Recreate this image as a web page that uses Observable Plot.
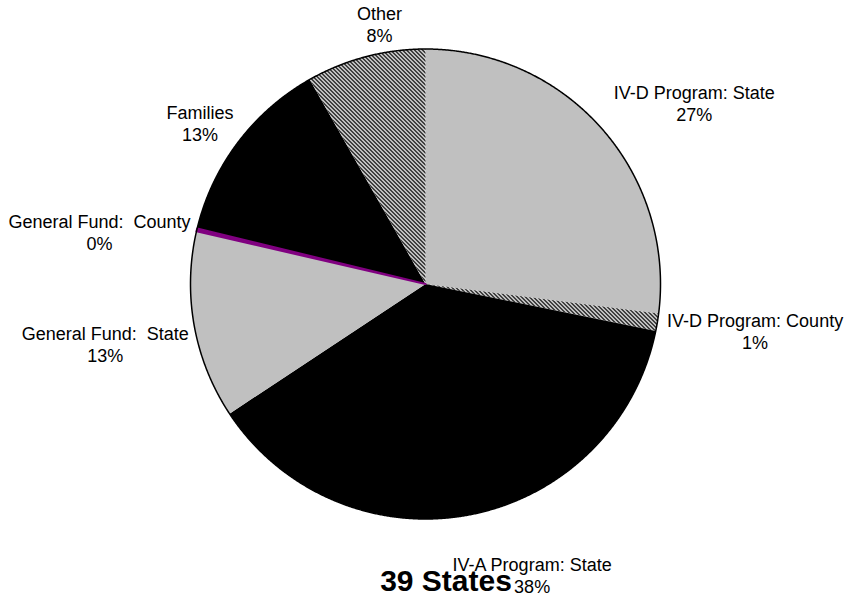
<!DOCTYPE html>
<html>
<head>
<meta charset="utf-8">
<script src="https://cdn.jsdelivr.net/npm/d3@7"></script>
<script src="https://cdn.jsdelivr.net/npm/@observablehq/plot@0.6"></script>
<style>
  html, body { margin: 0; padding: 0; background: #fff; }
  body { font-family: "Liberation Sans", Arial, sans-serif; }
  #wrap { position: relative; width: 856px; height: 598px; overflow: hidden; }
  #title { position: absolute; left: 346px; width: 200px; top: 564px; text-align: center;
           font-size: 30px; font-weight: bold; line-height: 34px; color: #000; white-space: nowrap; }
</style>
</head>
<body>
<div id="wrap"><div id="chart"></div><div id="title"></div></div>
<script>
// ---- data ----
const categories = [
  "IV-D Program: State",
  "IV-D Program: County",
  "IV-A Program: State",
  "General Fund:  State",
  "General Fund:  County",
  "Families",
  "Other"
];
const shares = [27.0, 1.2, 37.5, 12.9, 0.2, 13.0, 8.2];
const sliceFills = ["#c0c0c0", "url(#hatch)", "#000000", "#c0c0c0", "#800080", "#000000", "url(#hatch)"];
const chartTitle = "39 States";

// ---- layout constants ----
const W = 856, H = 598;
const CX = 425, CY = 283.5, RPX = 235;   // pie centre and radius in pixels
const FONT = "'Liberation Sans', Arial, sans-serif";
const FS = 18, LH = 1.2;
// small pixel nudges of each label block (right, down), like Excel's own placement
const labelNudgeX = [2, 2, 39, 2, 0, -4, 22];
const labelNudgeY = [15, 4, 0, 13, 9, -1, -3];

const table = categories.map((category, i) => ({category, share: shares[i]}));
const arcs = d3.pie().sort(null).value(d => d.share)(table);

// slice polygons in unit-radius coordinates (y up), angle 0 at 12 o'clock, clockwise
const step = Math.PI / 720;
const slicePts = arcs.flatMap(a => {
  const c = a.data.category;
  const pts = [{category: c, x: 0, y: 0}];
  const n = Math.max(2, Math.ceil((a.endAngle - a.startAngle) / step));
  for (let k = 0; k <= n; k++) {
    const t = a.startAngle + (a.endAngle - a.startAngle) * k / n;
    pts.push({category: c, x: Math.sin(t), y: Math.cos(t)});
  }
  pts.push({category: c, x: 0, y: 0});
  return pts;
});
const rim = d3.range(0, 1441).map(k => ({x: Math.sin(k * step), y: Math.cos(k * step)}));

// label placement: block just outside the rim, pushed outward by its own size
const ctx = document.createElement("canvas").getContext("2d");
ctx.font = `${FS}px ${FONT}`;
const labels = arcs.map((a, i) => {
  const text = `${a.data.category}\n${Math.round(a.data.share)}%`;
  const w = d3.max(text.split("\n"), s => ctx.measureText(s).width);
  const h = 2 * FS * LH;
  const t = (a.startAngle + a.endAngle) / 2;
  const gap = a.data.share > 20 ? 40 : 9;
  const px = (RPX + gap) * Math.sin(t) + Math.sin(t) * w / 2 + labelNudgeX[i];
  const py = (RPX + gap) * Math.cos(t) + Math.cos(t) * h / 2 - labelNudgeY[i];
  return {text, x: px / RPX, y: py / RPX};
});

const gfCounty = slicePts.filter(d => d.category === "General Fund:  County");

const chart = Plot.plot({
  width: W, height: H, margin: 0,
  x: {domain: [-CX / RPX, (W - CX) / RPX], axis: null},
  y: {domain: [-(H - CY) / RPX, CY / RPX], axis: null},
  color: {type: "ordinal", domain: categories, range: sliceFills},
  style: {background: "transparent", fontFamily: FONT, color: "#000"},
  marks: [
    Plot.line(slicePts, {x: "x", y: "y", z: "category", fill: "category", stroke: "none", curve: "linear"}),
    Plot.line(gfCounty, {x: "x", y: "y", fill: "#800080", stroke: "#800080", strokeWidth: 2, curve: "linear"}),
    Plot.line(rim, {x: "x", y: "y", stroke: "#000", strokeWidth: 1.5, fill: "none", curve: "linear"}),
    Plot.text(labels, {x: "x", y: "y", text: "text", fontSize: FS, lineHeight: LH,
      textAnchor: "middle", lineAnchor: "middle", fill: "#000", fontFamily: FONT})
  ]
});

// crisp pixel hatch (downward diagonal) for the striped slices
const svg = d3.select(chart);
const defs = svg.insert("defs", ":first-child");
const pat = defs.append("pattern").attr("id", "hatch").attr("patternUnits", "userSpaceOnUse")
  .attr("width", 4).attr("height", 4);
pat.append("rect").attr("width", 4).attr("height", 4).attr("fill", "#fff");
for (let r = 0; r < 4; r++) {
  for (let k = 0; k < 2; k++) {
    pat.append("rect").attr("x", (r + k) % 4).attr("y", r).attr("width", 1).attr("height", 1)
      .attr("fill", "#000").attr("shape-rendering", "crispEdges");
  }
}

document.getElementById("chart").append(chart);
document.getElementById("title").textContent = chartTitle;
</script>
</body>
</html>
